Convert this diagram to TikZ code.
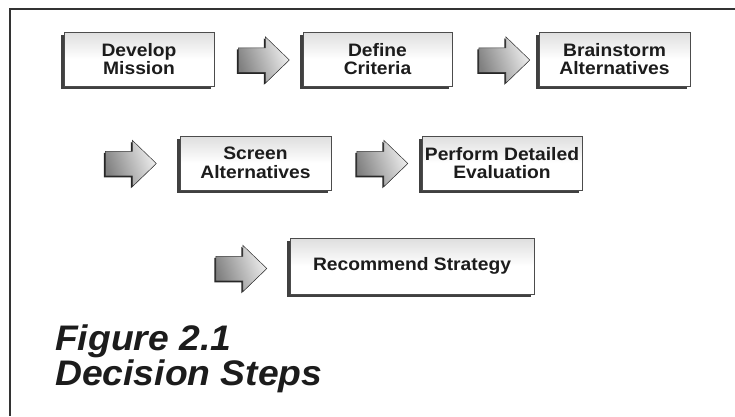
\documentclass[tikz,border=0pt]{standalone}
\usepackage{fontspec}
\setmainfont{Liberation Sans}
\newfontfamily\boxfont[FakeStretch=1.07]{Liberation Sans}
\newfontfamily\capfont[FakeStretch=1.05]{Liberation Sans}
\usetikzlibrary{shapes.arrows,shadows}
\definecolor{ink}{HTML}{1C1C1C}
\tikzset{
  stepbox/.style={draw=black!70, line width=0.6pt, top color=black!13, bottom color=white,
    middle color=white, shading angle=0,
    minimum width=#1, minimum height=54pt, inner sep=0pt, align=center,
    font=\boxfont\fontsize{18}{18.5}\selectfont\bfseries, text=ink,
    drop shadow={shadow xshift=-3pt, shadow yshift=-3pt, fill=black!75, opacity=1}},
  flowarrow/.style={single arrow, draw=black!80, line width=0.5pt,
    left color=black!50, right color=black!6, shading angle=110,
    minimum height=51pt, inner xsep=0pt, inner ysep=12pt, single arrow head extend=11pt,
    single arrow tip angle=88,
    drop shadow={shadow xshift=-1.5pt, shadow yshift=-1.5pt, fill=black!85, opacity=1}},
  titletext/.style={anchor=base west, inner sep=0pt, text=ink,
    font=\capfont\fontsize{35.5}{40}\selectfont\bfseries\itshape}
}
\begin{document}
\begin{tikzpicture}[x=1pt,y=-1pt]
\useasboundingbox (0,0) rectangle (735,416);
% frame
\draw[line width=2pt, black!80] (735,9) -- (10,9) -- (10,416);
% row 1
\node[stepbox=150pt] (mission) at (139,59) {Develop\\Mission};
\node[flowarrow] (a1) at (257.5,60) {};
\node[stepbox=149pt] (criteria) at (377.5,59) {Define\\Criteria};
\node[flowarrow] (a2) at (498,60) {};
\node[stepbox=151pt] (brain) at (614.5,59) {Brainstorm\\Alternatives};
% row 2
\node[flowarrow] (a3) at (124.5,163.5) {};
\node[stepbox=151pt] (screen) at (255.5,163) {Screen\\Alternatives};
\node[flowarrow] (a4) at (376,163.5) {};
\node[stepbox=160pt] (detail) at (502,163) {Perform Detailed\\Evaluation};
% row 3
\node[flowarrow] (a5) at (235,268.5) {};
\node[stepbox=244pt, minimum height=56pt] (strategy) at (412,266) {Recommend Strategy};
% caption
\node[titletext] (fig) at (55,350) {Figure 2.1};
\node[titletext] (dec) at (55,385) {Decision Steps};
\end{tikzpicture}
\end{document}
